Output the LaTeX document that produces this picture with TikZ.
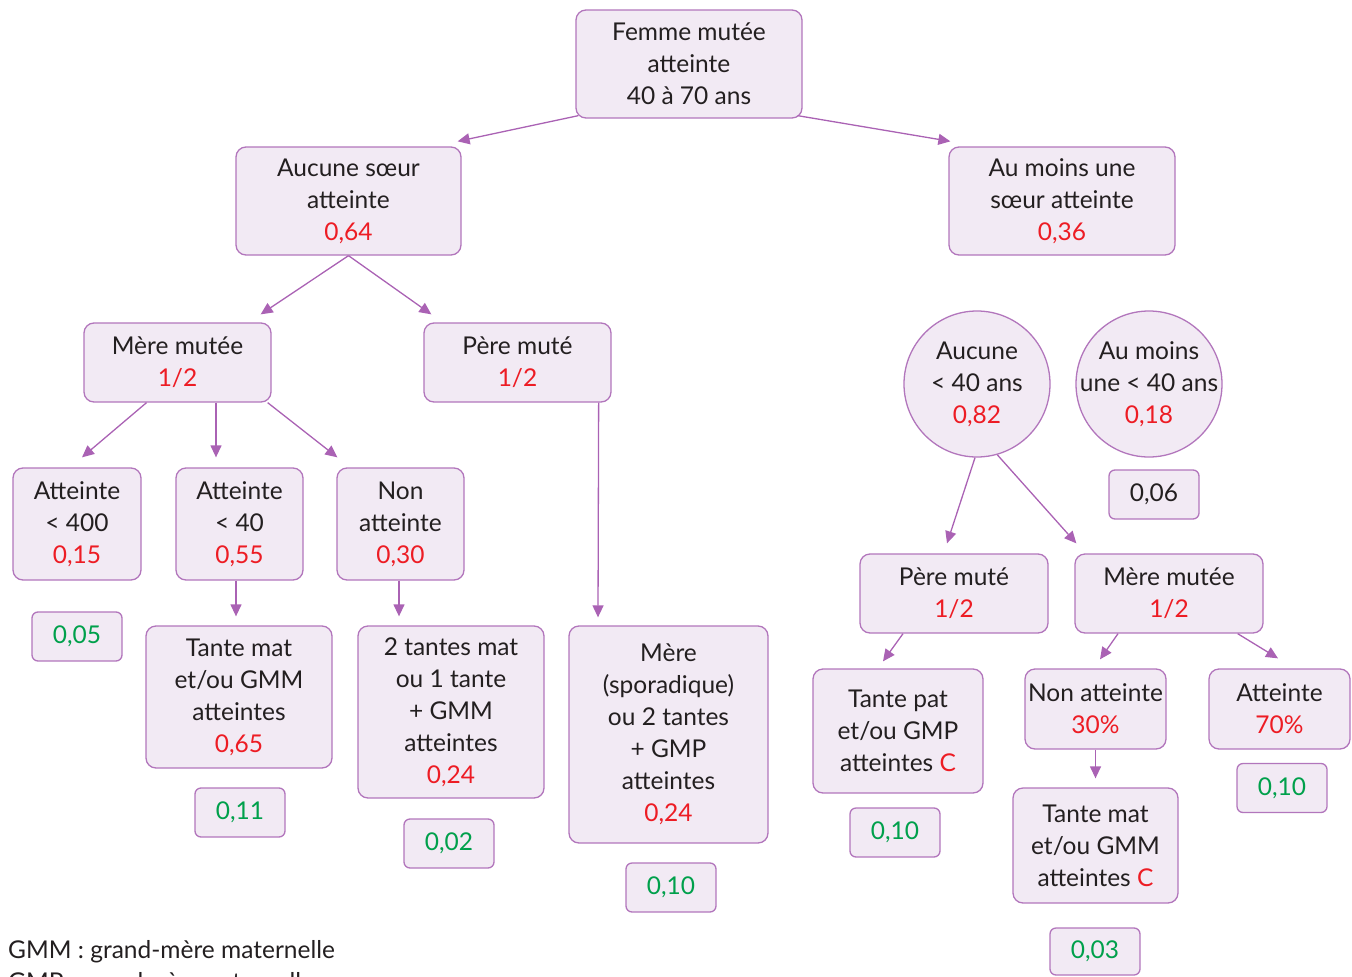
\documentclass[tikz,border=0pt]{standalone}
\usepackage{fontspec}
\setmainfont{Lato}
\usetikzlibrary{arrows.meta,calc}
\definecolor{bord}{RGB}{178,118,188}
\definecolor{bg}{RGB}{242,234,244}
\definecolor{arrc}{RGB}{170,98,180}
\definecolor{redv}{RGB}{237,28,36}
\definecolor{greenv}{RGB}{0,160,75}
\definecolor{txt}{RGB}{35,31,32}
\newcommand{\rv}[1]{\textcolor{redv}{#1}}
\newcommand{\fsz}{\fontsize{24.5}{32}\selectfont}
\tikzset{
  box/.style={draw=bord, fill=bg, rounded corners=10pt, line width=1.3pt, align=center,
    inner sep=0pt, text=txt, font=\fsz},
  res/.style={draw=bord, fill=bg, rounded corners=6pt, line width=1.3pt, align=center,
    inner sep=0pt, minimum width=90pt, minimum height=49pt, font=\fsz},
  circ/.style={circle, draw=bord, fill=bg, line width=1.3pt, align=center, inner sep=-20pt,
    minimum size=146pt, text=txt, font=\fsz},
  arr/.style={draw=arrc, line width=1.3pt, -{Triangle[length=12pt,width=11pt]}},
}
\begin{document}
\begin{tikzpicture}[x=1pt,y=-1pt]
\useasboundingbox (0,0) rectangle (1352,977);
% level 0
\node[box, minimum width=226pt, minimum height=108pt] (femme) at (689,64) {Femme mutée\\atteinte\\40 à 70 ans};
% level 1
\node[box, minimum width=225pt, minimum height=108pt] (aucune) at (348.5,201) {Aucune sœur\\atteinte\\\rv{0,64}};
\node[box, minimum width=226pt, minimum height=108pt] (aumoins) at (1062,201) {Au moins une\\sœur atteinte\\\rv{0,36}};
% level 2 left
\node[box, minimum width=187pt, minimum height=79pt] (meremut) at (177.5,362.5) {Mère mutée\\\rv{1/2}};
\node[box, minimum width=187pt, minimum height=79pt] (peremut) at (517.5,362.5) {Père muté\\\rv{1/2}};
% level 3 left
\node[box, minimum width=128pt, minimum height=112pt] (att400) at (77,524) {Atteinte\\< 400\\\rv{0,15}};
\node[box, minimum width=127pt, minimum height=112pt] (att40) at (239.5,524) {Atteinte\\< 40\\\rv{0,55}};
\node[box, minimum width=127pt, minimum height=112pt] (nonatt) at (400.5,524) {Non\\atteinte\\\rv{0,30}};
\node[res, text=greenv] (r005) at (77,636.5) {0,05};
% level 4 left
\node[box, minimum width=186pt, minimum height=142pt] (tante1) at (239,697) {Tante mat\\et/ou GMM\\atteintes\\\rv{0,65}};
\node[res, text=greenv] (r011) at (240,812.5) {0,11};
\node[box, minimum width=186pt, minimum height=172pt] (tantes2) at (451,712) {2 tantes mat\\ou 1 tante\\+ GMM\\atteintes\\\rv{0,24}};
\node[res, text=greenv] (r002) at (449,843.5) {0,02};
\node[box, minimum width=199pt, minimum height=217pt] (meresp) at (668.5,734.5) {Mère\\(sporadique)\\ou 2 tantes\\+ GMP\\atteintes\\\rv{0,24}};
\node[res, text=greenv] (r010a) at (671,887.5) {0,10};
% right side
\node[circ] (auc40) at (977,384) {Aucune\\< 40 ans\\\rv{0,82}};
\node[circ] (aum40) at (1149,384) {Au moins\\une < 40 ans\\\rv{0,18}};
\node[res, text=txt] (r006) at (1154,494.5) {0,06};
\node[box, minimum width=188pt, minimum height=79pt] (perer) at (954,593.5) {Père muté\\\rv{1/2}};
\node[box, minimum width=188pt, minimum height=79pt] (merer) at (1169,593.5) {Mère mutée\\\rv{1/2}};
\node[box, minimum width=170pt, minimum height=124pt] (tantepat) at (898,731) {Tante pat\\et/ou GMP\\atteintes \rv{C}};
\node[res, text=greenv] (r010b) at (895,832.5) {0,10};
\node[box, minimum width=141pt, minimum height=80pt] (nonatt30) at (1095.5,709) {Non atteinte\\\rv{30\%}};
\node[box, minimum width=141pt, minimum height=80pt] (att70) at (1279.5,709) {Atteinte\\\rv{70\%}};
\node[res, text=greenv] (r010c) at (1282,788) {0,10};
\node[box, minimum width=165pt, minimum height=115pt] (tantemat2) at (1095.5,845.5) {Tante mat\\et/ou GMM\\atteintes \rv{C}};
\node[res, text=greenv, minimum height=47pt] (r003) at (1095,951.5) {0,03};
% legend
\node[anchor=base west, inner sep=0pt, text=txt, font=\fsz] (leg1) at (8,958) {GMM : grand-mère maternelle};
\node[anchor=base west, inner sep=0pt, text=txt, font=\fsz] (leg2) at (8,990) {GMP : grand-père paternelle};
% arrows
\draw[arr] ($(femme.south west)+(3,-3)$) -- ($(aucune.north east)+(-4,-5)$);
\draw[arr] ($(femme.south east)+(-5,-3)$) -- ($(aumoins.north west)+(2,-5)$);
\draw[arr] (aucune.south) -- ($(meremut.north east)+(-11,-8)$);
\draw[arr] (aucune.south) -- ($(peremut.north west)+(8,-8)$);
\draw[arr] ($(meremut.south)+(-31,0)$) -- ($(att400.north)+(5,-10)$);
\draw[arr] ($(meremut.south)+(38.5,0)$) -- ($(att40.north)+(-23.5,-10)$);
\draw[arr] ($(meremut.south east)+(-4,0)$) -- ($(nonatt.north west)+(1,-10)$);
\draw[arr] ($(peremut.south east)+(-13,0)$) -- ($(meresp.north)+(-70.5,-8)$);
\draw[arr] ($(att40.south)+(-3.5,0)$) -- ($(tante1.north)+(-3,-9)$);
\draw[arr] ($(nonatt.south)+(-1.5,0)$) -- ($(tantes2.north)+(-52,-9)$);
\draw[arr] ($(auc40.south)+(-2,0)$) -- ($(perer.north)+(-7,-10)$);
\draw[arr] (auc40.-74) -- ($(merer.north west)+(2,-10)$);
\draw[arr] ($(perer.south)+(-51,0)$) -- ($(tantepat.north)+(-15,-7)$);
\draw[arr] ($(merer.south)+(-51,0)$) -- ($(nonatt30.north)+(4.5,-9)$);
\draw[arr] ($(merer.south east)+(-26,0)$) -- ($(att70.north)+(-1.5,-10)$);
\draw[arr] (nonatt30.south) -- ($(tantemat2.north)+(0,-9)$);
\end{tikzpicture}
\end{document}
